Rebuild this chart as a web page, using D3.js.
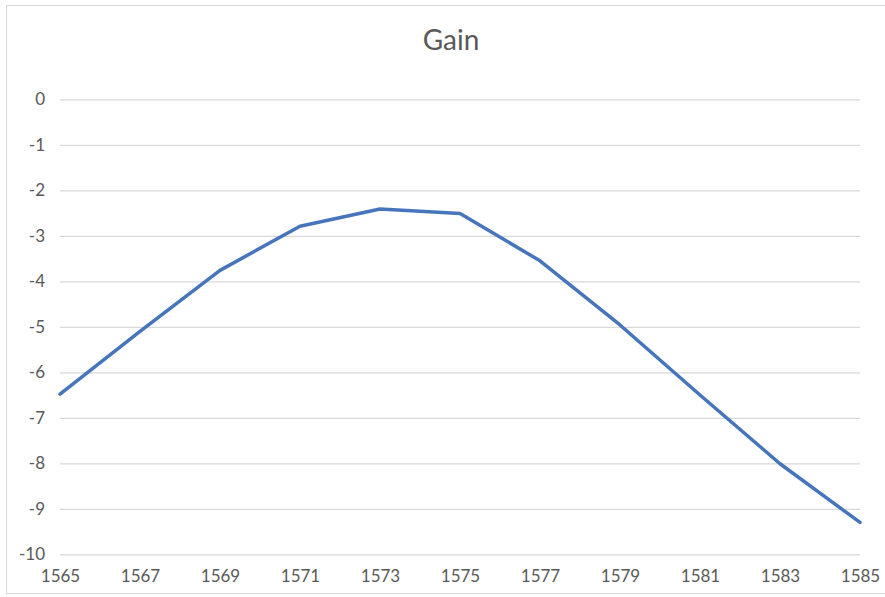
<!DOCTYPE html>
<html>
<head>
<meta charset="utf-8">
<script src="https://cdn.jsdelivr.net/npm/d3@7"></script>
<style>
  html, body { margin: 0; padding: 0; background: #fff; }
  svg { display: block; }
</style>
</head>
<body>
<svg id="chart" width="885" height="597"></svg>
<script>
const years = [1565, 1567, 1569, 1571, 1573, 1575, 1577, 1579, 1581, 1583, 1585];
const gain = [-6.48, -5.1, -3.76, -2.79, -2.41, -2.51, -3.55, -4.96, -6.5, -8.01, -9.3];
const yTicks = [0, -1, -2, -3, -4, -5, -6, -7, -8, -9, -10];
const xTicks = [1565, 1567, 1569, 1571, 1573, 1575, 1577, 1579, 1581, 1583, 1585];
const title = "Gain";

const svg = d3.select("#chart");
const font = "Lato, 'Open Sans', sans-serif";
const textColor = "#595959";

// chart frame
svg.append("rect")
  .attr("x", 6.5).attr("y", 5.5)
  .attr("width", 900).attr("height", 588)
  .attr("fill", "#fff")
  .attr("stroke", "#d9d9d9").attr("stroke-width", 1);

const x = d3.scaleLinear().domain([1565, 1585]).range([60, 860]);
const y = d3.scaleLinear().domain([-10, 0]).range([554.3, 99.3]);

// gridlines
svg.append("g")
  .attr("transform", "translate(60,0)")
  .call(d3.axisLeft(y).tickValues(yTicks).tickSize(-800).tickFormat(""))
  .call(g => g.select(".domain").remove())
  .call(g => g.selectAll(".tick line").attr("stroke", "#d9d9d9").attr("stroke-width", 1.2));

// y labels
svg.append("g")
  .attr("transform", "translate(60,0)")
  .call(d3.axisLeft(y).tickValues(yTicks).tickSize(0).tickPadding(15).tickFormat(d => d3.format("d")(d).replace("−", "-")))
  .call(g => g.select(".domain").remove())
  .call(g => g.selectAll("text")
    .attr("fill", textColor)
    .style("font-family", font)
    .style("font-size", "17px"));

// x labels
svg.append("g")
  .attr("transform", "translate(0,554.3)")
  .call(d3.axisBottom(x).tickValues(xTicks).tickSize(0).tickPadding(16).tickFormat(d3.format("d")))
  .call(g => g.select(".domain").remove())
  .call(g => g.selectAll("text")
    .attr("fill", textColor)
    .style("font-family", font)
    .style("font-size", "17px"));

// line
const line = d3.line().x((d, i) => x(years[i])).y(d => y(d));
svg.append("path")
  .datum(gain)
  .attr("fill", "none")
  .attr("stroke", "#4675BC")
  .attr("stroke-width", 3.5)
  .attr("stroke-linejoin", "round")
  .attr("stroke-linecap", "round")
  .attr("d", line);

// title
svg.append("text")
  .attr("x", 451).attr("y", 50)
  .attr("text-anchor", "middle")
  .attr("fill", textColor)
  .style("font-family", font)
  .style("font-size", "28px")
  .text(title);
</script>
</body>
</html>
